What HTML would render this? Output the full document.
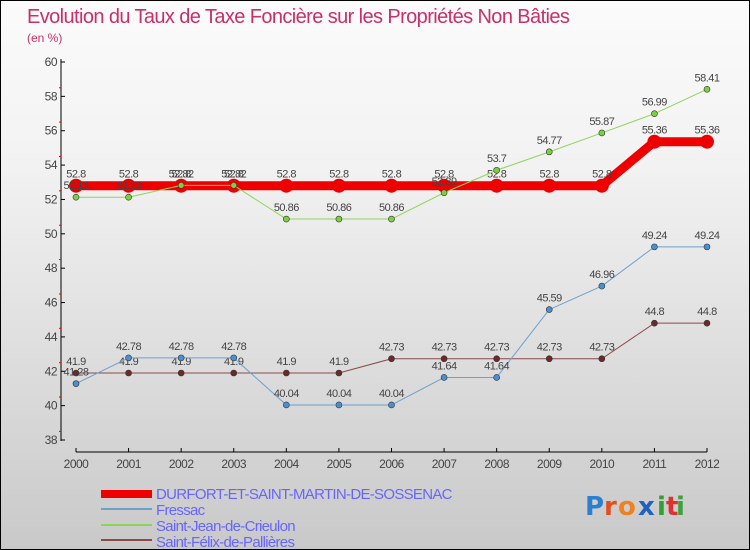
<!DOCTYPE html>
<html><head><meta charset="utf-8"><style>
body{margin:0;}
#c{width:748px;height:548px;border:1px solid #000;background:linear-gradient(#fbfbfb,#f2f2f2 30%,#c9c9c9);position:relative;overflow:hidden;font-family:"Liberation Sans",sans-serif;}
svg{position:absolute;left:0;top:0;}
</style></head><body>
<div id="c">
<svg id="s" width="750" height="550">
<text x="26" y="22" font-size="20" fill="#c8306a" letter-spacing="-0.6">Evolution du Taux de Taxe Foncière sur les Propriétés Non Bâties</text>
<text x="26" y="41" font-size="12" fill="#c8306a">(en %)</text>
<g font-size="15" fill="#6666ff" letter-spacing="-0.7">
<text x="155" y="498">DURFORT-ET-SAINT-MARTIN-DE-SOSSENAC</text>
<text x="155" y="514">Fressac</text>
<text x="155" y="530">Saint-Jean-de-Crieulon</text>
<text x="155" y="546">Saint-Félix-de-Pallières</text>
</g>
<rect x="100" y="489" width="51" height="8" fill="#e00"/>
<rect x="100" y="507" width="51" height="2" fill="#6ea0cc"/>
<rect x="100" y="523" width="51" height="2" fill="#8fd45a"/>
<rect x="100" y="538" width="51" height="2" fill="#8a4a4a"/>
<g font-size="26" font-family="'DejaVu Sans',sans-serif" font-weight="bold">
<text x="584" y="514" fill="#2a7fd0">P</text><text x="603" y="514" fill="#e05020">r</text><text x="617" y="514" fill="#f08020">o</text><text x="637" y="514" fill="#2060c0">x</text><text x="656" y="514" fill="#30a030">i</text><text x="665" y="514" fill="#e03030">t</text><text x="675" y="514" fill="#40a040">i</text>
</g>
</svg>
</div>
<script>
const years=[2000,2001,2002,2003,2004,2005,2006,2007,2008,2009,2010,2011,2012];
const durfort=[52.8,52.8,52.8,52.8,52.8,52.8,52.8,52.8,52.8,52.8,52.8,55.36,55.36];
const fressac=[41.28,42.78,42.78,42.78,40.04,40.04,40.04,41.64,41.64,45.59,46.96,49.24,49.24];
const saintJean=[52.13,52.13,52.82,52.82,50.86,50.86,50.86,52.39,53.7,54.77,55.87,56.99,58.41];
const saintFelix=[41.9,41.9,41.9,41.9,41.9,41.9,42.73,42.73,42.73,42.73,42.73,44.8,44.8];
const yTicks=[38,40,42,44,46,48,50,52,54,56,58,60];
const NS="http://www.w3.org/2000/svg";
const svg=document.getElementById('s');
const X=i=>75+i*(706-75)/(years.length-1);
const Y=v=>61+(60-v)*(439-61)/22;
function mk(t,a,p){const e=document.createElementNS(NS,t);for(const k in a)e.setAttribute(k,a[k]);(p||svg).appendChild(e);return e;}
let ax=mk('line',{x1:60,y1:58,x2:60,y2:440,stroke:'#000','stroke-width':1});


let bx=mk('line',{x1:75,y1:451,x2:706,y2:451,stroke:'#000','stroke-width':1});


yTicks.forEach(v=>{
 const y=Y(v);
 mk('line',{x1:60,y1:y,x2:64,y2:y,stroke:'#000'});
 if(v<60){mk('line',{x1:58,y1:y-8.6,x2:60,y2:y-8.6,stroke:'#e00'});}
 const t=mk('text',{x:56,y:y+4,'font-size':12,fill:'#444','text-anchor':'end','letter-spacing':'-0.5'});
 t.textContent=v;
 
 
});
years.forEach((yr,i)=>{
 const x=X(i);
 mk('line',{x1:x,y1:447,x2:x,y2:451,stroke:'#000'});
 const t=mk('text',{x:x,y:467,'font-size':12,fill:'#444','text-anchor':'middle','letter-spacing':'-0.5'});
 t.textContent=yr;
 
 
});
function series(vals,color,w,dot,name,r){
 const g=mk('g',{});
 
 
 mk('polyline',{points:vals.map((v,i)=>X(i)+','+Y(v)).join(' '),fill:'none',stroke:color,'stroke-width':w,'stroke-linejoin':'round'},g);
 vals.forEach((v,i)=>{
  const c=mk('circle',{cx:X(i),cy:Y(v),r:r,fill:dot,stroke:'#333','stroke-width':r>4?0:0.6},g);
  
  
  const t=mk('text',{x:X(i),y:Y(v)-8,'font-size':11,fill:'#444','text-anchor':'middle','letter-spacing':'-0.5'},g);
  t.textContent=v;
  
  
 });
}
series(saintFelix,'#8a4a4a',1,'#6a2a2a','series-saint-felix',3);
series(fressac,'#6ea0cc',1,'#4a90d0','series-fressac',3);
series(durfort,'#e00',9,'#e00','series-durfort',7);
series(saintJean,'#8fd45a',1,'#7cd040','series-saint-jean',3);
</script>
</body></html>
